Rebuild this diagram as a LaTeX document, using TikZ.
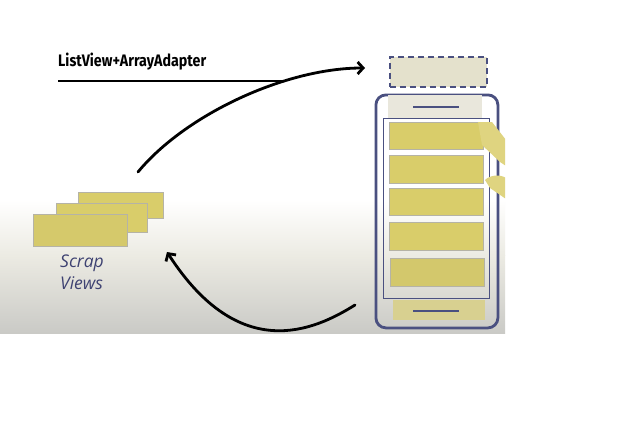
\documentclass[tikz,border=0pt]{standalone}
\usepackage{fontspec}
\setmainfont{Fira Sans}
\newfontfamily\handfont{Open Sans}
\usetikzlibrary{arrows.meta}

\definecolor{cardfill}{HTML}{D9CD6A}
\definecolor{cardedge}{HTML}{B5B3A6}
\definecolor{navy}{HTML}{4A5080}
\definecolor{beige}{HTML}{E9E7DC}
\definecolor{ink}{HTML}{3E4272}
\definecolor{dashfill}{HTML}{E4E1CC}
\definecolor{speckle}{HTML}{D8D090}
\definecolor{panelmid}{HTML}{ECEBE3}
\definecolor{panelbot}{HTML}{CACAC6}

\tikzset{
  card/.style={draw=cardedge, line width=0.8pt, fill=cardfill, inner sep=0pt, anchor=north west},
  flow/.style={line width=2.8pt, line cap=round, -{Straight Barb[length=5.5pt,width=12pt,line width=2.8pt]}},
  frame/.style={draw=navy, inner sep=0pt, anchor=north west},
}

\begin{document}
\begin{tikzpicture}[x=1pt,y=-1pt]
\useasboundingbox (0,0) rectangle (640,423);
\fill[white] (0,0) rectangle (640,423);

% panel background: white fading to grey towards the bottom
\shade[top color=white, bottom color=panelmid] (0,200) rectangle (505,255);
\shade[top color=panelmid, bottom color=panelbot] (0,255) rectangle (505,333);

% title and underline
\node[anchor=base west, inner sep=0pt] (title) at (58,66)
  {\resizebox{148pt}{13.5pt}{\bfseries ListView+ArrayAdapter}};
\draw[line width=1.2pt] (58,81) -- (283,81);

% scrap views stack
\node[card, minimum width=85pt, minimum height=26pt] (scrapC) at (78,192) {};
\node[card, minimum width=91pt, minimum height=29pt] (scrapB) at (56,203) {};
\node[card, minimum width=94pt, minimum height=32pt, fill=cardfill!95!gray] (scrapA) at (33,214) {};
\node[anchor=north west, inner sep=0pt, text=ink, align=left,
      font=\handfont\itshape\fontsize{17.5}{22}\selectfont] (scraplbl) at (60,255) {Scrap\\Views};

% phone
\node[frame, line width=2.8pt, rounded corners=10pt, minimum width=122pt, minimum height=233pt] (phone) at (374.5,93.5) {};
\node[anchor=north west, fill=beige, inner sep=0pt, minimum width=94pt, minimum height=23pt] (earpiece) at (388,95) {};
\draw[navy, line width=2pt] (413,107) -- (459,107);
\node[frame, line width=1.3pt, minimum width=106pt, minimum height=180pt] (screen) at (383,118) {};
\node[card, minimum width=94pt, minimum height=27pt] (row1) at (389,122) {};
\node[card, minimum width=94pt, minimum height=28pt] (row2) at (389,155) {};
\node[card, minimum width=94pt, minimum height=27pt] (row3) at (389,188) {};
\node[card, minimum width=94pt, minimum height=28pt] (row4) at (389,222) {};
\node[card, minimum width=94pt, minimum height=28pt, fill=cardfill!93!gray] (row5) at (390,258) {};
\node[anchor=north west, fill=speckle, inner sep=0pt, minimum width=92pt, minimum height=20pt] (chin) at (393,300) {};
\draw[navy, line width=2pt] (413,311) -- (459,311);

% slot for the incoming row
\node[frame, line width=2.8pt, dash pattern=on 6pt off 4pt, fill=dashfill, minimum width=97pt, minimum height=30pt] (slot) at (388.5,55.5) {};

\begin{scope}
  \clip (0,0) rectangle (505,333);
  % rows sliding off the side of the screen
  \fill[cardfill!85!white] (478,122) -- (492,122) -- (506,140) -- (506,166) -- (500,162) -- (482,145) -- cycle;
  \fill[cardfill!85!white] (485,180) .. controls (490,175) and (500,174) .. (506,178) -- (506,199) -- (490,188) -- cycle;
  % recycled rows go back to the scrap pile
  \coordinate (downstart) at (355,305);
  \coordinate (downtip) at (167,252);
  \draw[flow] (downstart) .. controls (315,330) and (240,365) .. (downtip);
\end{scope}

% scrap views are bound into the list
\coordinate (upstart) at (138,172);
\coordinate (uptip) at (365,68);
\draw[flow] (upstart) .. controls (185,115) and (285,68) .. (uptip);
\end{tikzpicture}
\end{document}
